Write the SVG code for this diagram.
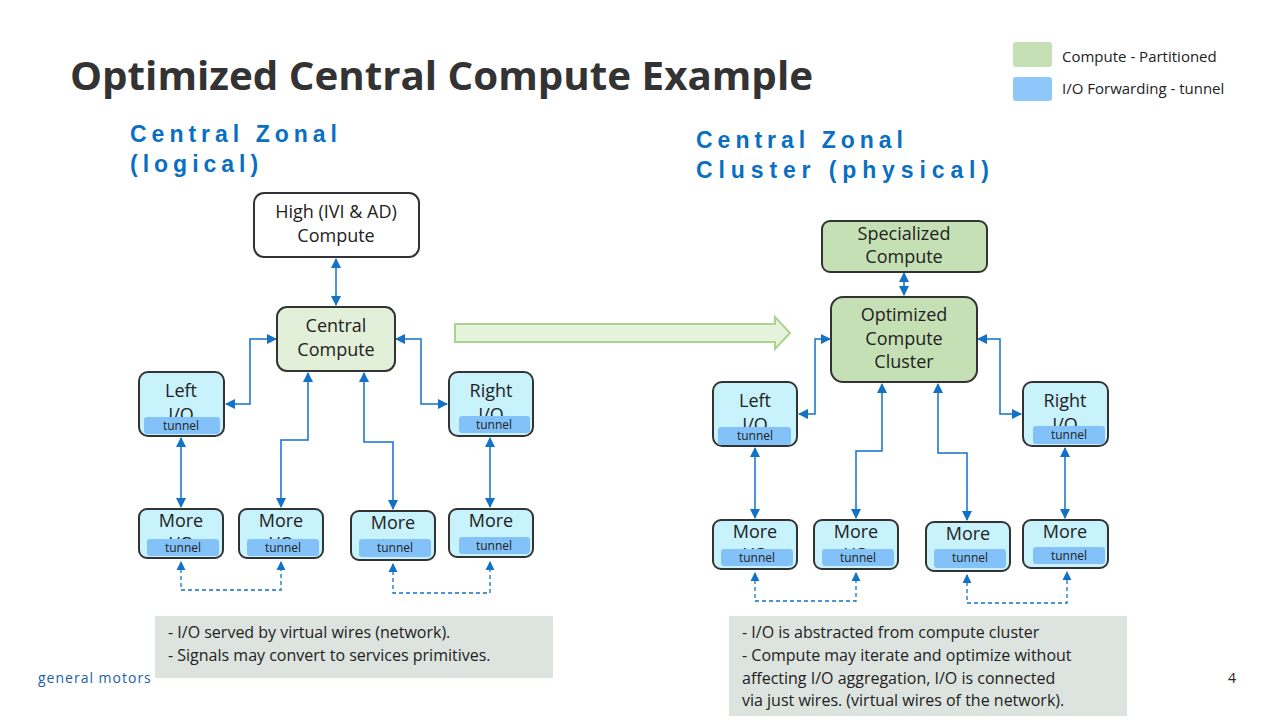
<svg xmlns="http://www.w3.org/2000/svg" width="1280" height="720" viewBox="0 0 1280 720">
<defs>
<marker id="ar" viewBox="0 0 10 10" refX="9" refY="5" markerWidth="7" markerHeight="7" orient="auto-start-reverse"><path d="M0,0 L10,5 L0,10 z" fill="#1272c8"/></marker>
<style>
text{font-family:"Open Sans","Liberation Sans","DejaVu Sans",sans-serif;}
.io{fill:#c8f2fc;stroke:#333;stroke-width:2;}
.tn{fill:#82c2f8;}
.nt{font-size:18px;fill:#222;text-anchor:middle;}
.tt{font-size:12px;fill:#222;text-anchor:middle;}
.c{fill:none;stroke:#1272c8;stroke-width:1.5;marker-start:url(#ar);marker-end:url(#ar);}
.d{fill:none;stroke:#1272c8;stroke-width:1.3;stroke-dasharray:4 3;marker-start:url(#ar);marker-end:url(#ar);}
.sub{font-size:23px;font-weight:bold;fill:#0a6fc2;letter-spacing:5px;font-family:"Liberation Sans",sans-serif;}
.note{font-size:16px;fill:#222;}
</style>
</defs>
<rect width="1280" height="720" fill="#fff"/>
<text x="70" y="90" font-size="40" font-weight="bold" fill="#333" font-family="Liberation Sans, sans-serif" textLength="743" lengthAdjust="spacingAndGlyphs">Optimized Central Compute Example</text>
<text class="sub" x="130" y="142">Central Zonal</text>
<text class="sub" x="130" y="172">(logical)</text>
<text class="sub" x="696" y="148">Central Zonal</text>
<text class="sub" x="696" y="178" textLength="298">Cluster (physical)</text>
<g id="legend">
<rect x="1013" y="42" width="39" height="25" rx="3" fill="#c5e0b4"/>
<rect x="1013" y="77" width="39" height="24" rx="3" fill="#8ec8fa"/>
<text x="1062" y="62" font-size="15" fill="#222">Compute - Partitioned</text>
<text x="1062" y="94" font-size="15" fill="#222">I/O Forwarding - tunnel</text>
</g>
<g id="bigarrow"><path d="M455,324 H775 V317 L790,333 L775,349 V342 H455 Z" fill="#e6f3dc" stroke="#a9d38e" stroke-width="2"/></g>
<g id="connectors">
<path class="c" d="M336,259 V305"/>
<path class="c" d="M276,339 H250 V404 H226"/>
<path class="c" d="M396,339 H421 V404 H447"/>
<path class="c" d="M308,373 V440 H281 V507"/>
<path class="c" d="M364,373 V442 H393 V509"/>
<path class="c" d="M181,438 V507"/>
<path class="c" d="M490,438 V507"/>
<path class="d" d="M181,562 V590 H281 V562"/>
<path class="d" d="M393,564 V593 H490 V562"/>
<path class="c" d="M904,273 V295"/>
<path class="c" d="M830,339 H815 V414 H799"/>
<path class="c" d="M978,339 H1000 V414 H1021"/>
<path class="c" d="M882,384 V451 H856 V518"/>
<path class="c" d="M938,384 V453 H967 V520"/>
<path class="c" d="M755,448 V518"/>
<path class="c" d="M1065,448 V518"/>
<path class="d" d="M755,573 V601 H856 V573"/>
<path class="d" d="M967,575 V603 H1067 V572"/>
</g>
<g id="high"><rect x="254" y="193" width="165" height="64" rx="10" fill="#fff" stroke="#333" stroke-width="2"/><text class="nt" x="336" y="218">High (IVI &amp; AD)</text><text class="nt" x="336" y="242">Compute</text></g>
<g id="central"><rect x="277" y="307" width="118" height="64" rx="10" fill="#e2efd9" stroke="#333" stroke-width="2"/><text class="nt" x="336" y="332">Central</text><text class="nt" x="336" y="356">Compute</text></g>
<g id="leftio"><rect class="io" x="139" y="372" width="85" height="64" rx="9"/><text class="nt" x="181" y="397">Left</text><text class="nt" x="181" y="421">I/O</text><rect class="tn" x="144" y="417" width="76" height="17" rx="3"/><text class="tt" x="181" y="430">tunnel</text></g>
<g id="rightio"><rect class="io" x="449" y="372" width="84" height="64" rx="9"/><text class="nt" x="491" y="397">Right</text><text class="nt" x="491" y="421">I/O</text><rect class="tn" x="459" y="416" width="71" height="17" rx="3"/><text class="tt" x="494" y="429">tunnel</text></g>
<g id="more1"><rect class="io" x="139" y="509" width="84" height="49" rx="8"/><text class="nt" x="181" y="527">More</text><text class="nt" x="181" y="550">I/O</text><rect class="tn" x="147" y="539" width="72" height="17" rx="3"/><text class="tt" x="183" y="552">tunnel</text></g>
<g id="more2"><rect class="io" x="239" y="509" width="84" height="49" rx="8"/><text class="nt" x="281" y="527">More</text><text class="nt" x="281" y="550">I/O</text><rect class="tn" x="247" y="539" width="72" height="17" rx="3"/><text class="tt" x="283" y="552">tunnel</text></g>
<g id="more3"><rect class="io" x="351" y="511" width="84" height="49" rx="8"/><text class="nt" x="393" y="529">More</text><text class="nt" x="393" y="552">I/O</text><rect class="tn" x="359" y="539" width="72" height="18" rx="3"/><text class="tt" x="395" y="552">tunnel</text></g>
<g id="more4"><rect class="io" x="449" y="509" width="84" height="48" rx="8"/><text class="nt" x="491" y="527">More</text><text class="nt" x="491" y="550">I/O</text><rect class="tn" x="459" y="537" width="71" height="17" rx="3"/><text class="tt" x="494" y="550">tunnel</text></g>
<g id="special"><rect x="822" y="221" width="165" height="51" rx="8" fill="#c5e0b4" stroke="#333" stroke-width="2"/><text class="nt" x="904" y="240">Specialized</text><text class="nt" x="904" y="263">Compute</text></g>
<g id="cluster"><rect x="831" y="297" width="146" height="85" rx="12" fill="#c5e0b4" stroke="#333" stroke-width="2"/><text class="nt" x="904" y="321">Optimized</text><text class="nt" x="904" y="345">Compute</text><text class="nt" x="904" y="368">Cluster</text></g>
<g id="rleftio"><rect class="io" x="713" y="382" width="84" height="64" rx="9"/><text class="nt" x="755" y="407">Left</text><text class="nt" x="755" y="431">I/O</text><rect class="tn" x="718" y="427" width="73" height="18" rx="3"/><text class="tt" x="755" y="440">tunnel</text></g>
<g id="rrightio"><rect class="io" x="1023" y="382" width="85" height="64" rx="9"/><text class="nt" x="1065" y="407">Right</text><text class="nt" x="1065" y="431">I/O</text><rect class="tn" x="1033" y="426" width="72" height="18" rx="3"/><text class="tt" x="1069" y="439">tunnel</text></g>
<g id="rmore1"><rect class="io" x="713" y="520" width="84" height="49" rx="8"/><text class="nt" x="755" y="538">More</text><text class="nt" x="755" y="561">I/O</text><rect class="tn" x="721" y="549" width="72" height="17" rx="3"/><text class="tt" x="757" y="562">tunnel</text></g>
<g id="rmore2"><rect class="io" x="814" y="520" width="84" height="49" rx="8"/><text class="nt" x="856" y="538">More</text><text class="nt" x="856" y="561">I/O</text><rect class="tn" x="822" y="549" width="72" height="17" rx="3"/><text class="tt" x="858" y="562">tunnel</text></g>
<g id="rmore3"><rect class="io" x="926" y="522" width="84" height="49" rx="8"/><text class="nt" x="968" y="540">More</text><text class="nt" x="968" y="563">I/O</text><rect class="tn" x="934" y="549" width="72" height="19" rx="3"/><text class="tt" x="970" y="562">tunnel</text></g>
<g id="rmore4"><rect class="io" x="1023" y="520" width="85" height="48" rx="8"/><text class="nt" x="1065" y="538">More</text><text class="nt" x="1065" y="561">I/O</text><rect class="tn" x="1033" y="547" width="72" height="17" rx="3"/><text class="tt" x="1069" y="560">tunnel</text></g>
<g id="note1"><rect x="155" y="616" width="398" height="62" fill="#dde3de"/><text class="note" x="168" y="638">- I/O served by virtual wires (network).</text><text class="note" x="168" y="661">- Signals may convert to services primitives.</text></g>
<g id="note2"><rect x="729" y="616" width="398" height="100" fill="#dde3de"/><text class="note" x="742" y="638">- I/O is abstracted from compute cluster</text><text class="note" x="742" y="661">- Compute may iterate and optimize without</text><text class="note" x="742" y="684">affecting I/O aggregation,  I/O is connected</text><text class="note" x="742" y="706">via just wires. (virtual wires of the network).</text></g>
<text x="38" y="683" font-size="14" fill="#1a5fa8" letter-spacing="1">general motors</text>
<text x="1228" y="683" font-size="14" fill="#222">4</text>
</svg>
